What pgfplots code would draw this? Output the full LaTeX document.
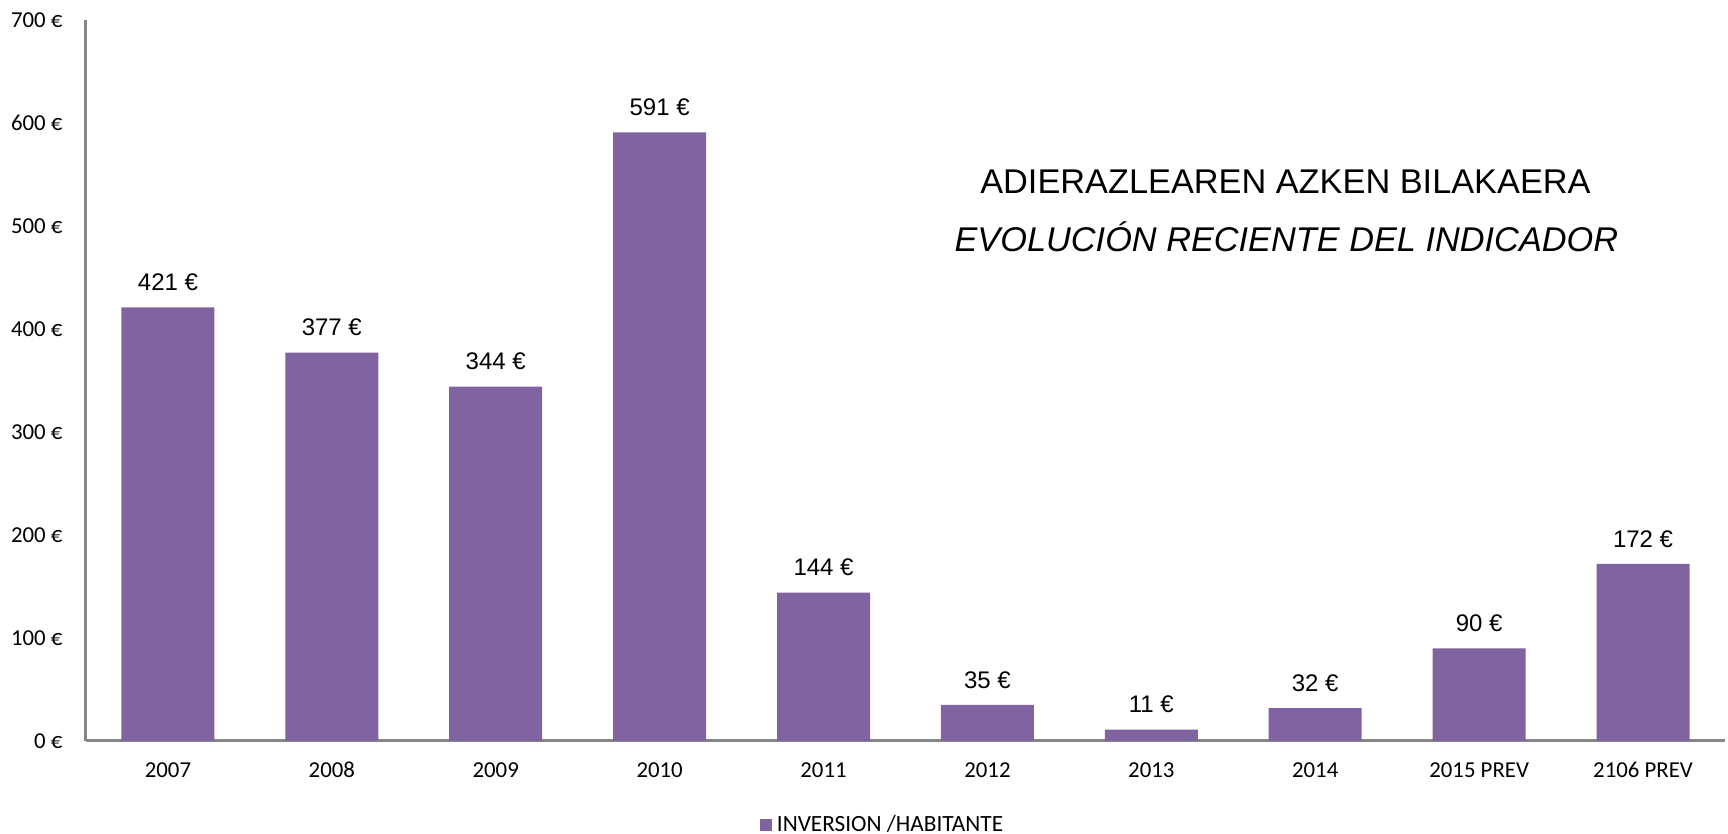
\documentclass[border=0pt]{standalone}
\usepackage{pgfplots}
\pgfplotsset{compat=1.18}
\usepackage{fontspec}
\setmainfont{Carlito}
\newfontfamily\arial{Liberation Sans}
\definecolor{barpurple}{RGB}{128,100,162}
\definecolor{axisgray}{RGB}{134,134,134}
\begin{document}
\begin{tikzpicture}
\useasboundingbox (0,0) rectangle (720pt,347.5pt);
\begin{axis}[
  at={(35.83pt,38.75pt)}, anchor=south west,
  scale only axis,
  width=682.9pt, height=300.4pt,
  xmin=-0.5, xmax=9.5, ymin=0, ymax=700,
  axis x line=bottom, axis y line=left,
  axis line style={-, axisgray, line width=1.25pt},
  xtick={0,...,9},
  xticklabels={2007,2008,2009,2010,2011,2012,2013,2014,2015 PREV,2106 PREV},
  ytick={0,100,...,700},
  yticklabels={0 €,100 €,200 €,300 €,400 €,500 €,600 €,700 €},
  major tick length=0pt,
  tick style={draw=none},
  xticklabel style={anchor=base, yshift=-15.4pt, font=\fontsize{9.5}{11}\selectfont},
  yticklabel style={anchor=east, inner sep=0pt, xshift=-9.6pt, font=\fontsize{9.5}{11}\selectfont},
  /pgf/number format/assume math mode=true,
  ybar, bar width=38.75pt, bar shift=0pt,
  clip=false,
  nodes near coords={\pgfmathprintnumber{\pgfplotspointmeta}~€},
  every node near coord/.append style={anchor=base, yshift=7pt, inner sep=0pt, font=\arial\fontsize{10}{12}\selectfont, black},
  legend style={at={(0.411,0)}, anchor=west, yshift=-35pt, draw=none, fill=none, inner sep=0pt, font=\fontsize{9.7}{11}\selectfont},
  legend image code/.code={\fill[#1] (0pt,-2.5pt) rectangle (5pt,2.5pt);},
]
\addplot[fill=barpurple, draw=none] coordinates {
  (0,421) (1,377) (2,344) (3,591) (4,144) (5,35) (6,11) (7,32) (8,90) (9,172)
};
\addlegendentry{INVERSION /HABITANTE}
\end{axis}
\node[anchor=base, inner sep=0pt, font=\arial\fontsize{14.3}{17}\selectfont] at (535.6pt,266.7pt) {ADIERAZLEAREN AZKEN BILAKAERA};
\node[anchor=base, inner sep=0pt, font=\arial\itshape\fontsize{14.3}{17}\selectfont] at (536pt,242.6pt) {EVOLUCIÓN RECIENTE DEL INDICADOR};
\end{tikzpicture}
\end{document}
